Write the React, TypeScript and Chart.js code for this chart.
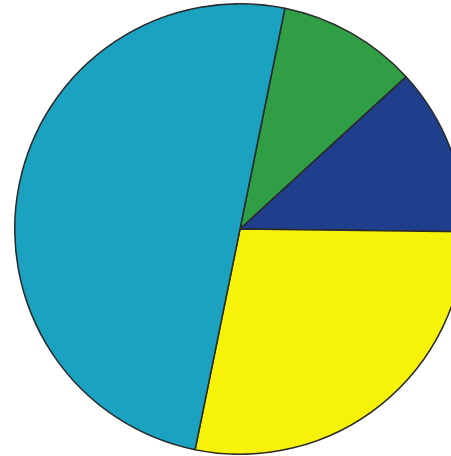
import React, { useEffect, useRef } from "react";
import { Chart, registerables } from "chart.js";

Chart.register(...registerables);

const categories = ["Green", "Navy", "Yellow", "Teal"];
const values = [10, 12, 28, 50];
const colors = ["#2f9e45", "#1f3f8c", "#f7f20a", "#1aa2c0"];

export default function App() {
  const ref = useRef<HTMLCanvasElement | null>(null);
  useEffect(() => {
    if (!ref.current) return;
    const chart = new Chart(ref.current, {
      type: "pie",
      data: {
        labels: categories,
        datasets: [
          {
            data: values,
            backgroundColor: colors,
            borderColor: "#2a2a2a",
            borderWidth: 1.5,
          },
        ],
      },
      options: {
        responsive: false,
        animation: false,
        rotation: 11.5,
        layout: { padding: 0 },
        plugins: { legend: { display: false }, tooltip: { enabled: false } },
      },
    });
    return () => chart.destroy();
  }, []);
  return (
    <div
      style={{
        position: "fixed",
        left: 0,
        top: 0,
        width: 451,
        height: 456,
        overflow: "hidden",
        background: "#ffffff",
      }}
    >
      <canvas
        ref={ref}
        width={452}
        height={452}
        style={{ position: "absolute", left: 14, top: 3, width: 452, height: 452 }}
      />
    </div>
  );
}
